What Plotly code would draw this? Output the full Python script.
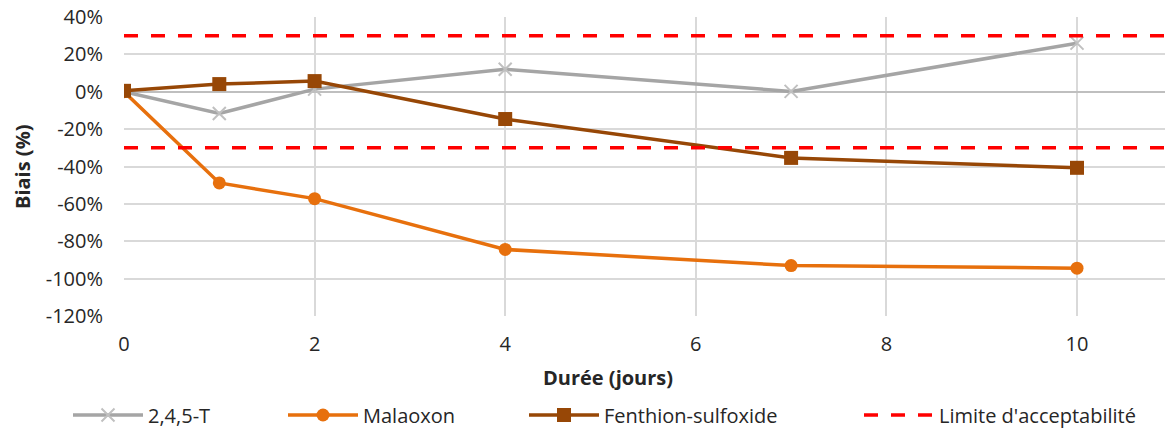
import plotly.graph_objects as go

# ---- data ----
days = [0, 1, 2, 4, 7, 10]
t245 = [0.0, -0.116, 0.014, 0.12, 0.002, 0.26]
malaoxon = [0.0, -0.488, -0.572, -0.844, -0.93, -0.944]
fenthion = [0.005, 0.041, 0.057, -0.146, -0.354, -0.407]
limit_x = [0, 11]
limit_hi = [0.30, 0.30]
limit_lo = [-0.30, -0.30]
y_ticks = [0.4, 0.2, 0.0, -0.2, -0.4, -0.6, -0.8, -1.0, -1.2]
x_ticks = [0, 2, 4, 6, 8, 10]

W, H = 1165, 430
L, R, T, B = 124, 0, 17, 114
FONT = "Open Sans"
TXT = "#262626"

fig = go.Figure()
fig.add_trace(go.Scatter(
    x=days, y=t245, name="2,4,5-T", mode="lines+markers",
    line=dict(color="#a5a5a5", width=3.5),
    marker=dict(symbol="x-thin", size=13, line=dict(color="#c0c0c0", width=2), color="#c0c0c0"),
    legend="legend"))
fig.add_trace(go.Scatter(
    x=days, y=malaoxon, name="Malaoxon", mode="lines+markers",
    line=dict(color="#e7700d", width=3.5),
    marker=dict(symbol="circle", size=13, color="#e7700d"),
    legend="legend2"))
fig.add_trace(go.Scatter(
    x=days, y=fenthion, name="Fenthion-sulfoxide", mode="lines+markers",
    line=dict(color="#974706", width=3.5),
    marker=dict(symbol="square", size=14, color="#974706"),
    legend="legend3"))
fig.add_trace(go.Scatter(
    x=limit_x, y=limit_hi, name="Limite d'acceptabilité", mode="lines",
    line=dict(color="#ff0000", width=3.5, dash="14px,13px"),
    legend="legend4"))
fig.add_trace(go.Scatter(
    x=limit_x, y=limit_lo, name="Limite d'acceptabilité", mode="lines",
    line=dict(color="#ff0000", width=3.5, dash="14px,13px"),
    legend="legend4", showlegend=False))

plot_w = W - L - R
plot_h = H - T - B

def px_x(px):
    return (px - L) / plot_w

def px_y(py):
    return (H - B - py) / plot_h

leg_common = dict(orientation="h", xref="container", yref="container",
                  xanchor="left", yanchor="middle", y=(H - 415) / H,
                  font=dict(family=FONT, size=20, color=TXT),
                  bgcolor="rgba(0,0,0,0)", itemwidth=70, borderwidth=0)

fig.update_layout(
    width=W, height=H,
    margin=dict(l=L, r=R, t=T, b=B, pad=0, autoexpand=False),
    paper_bgcolor="white", plot_bgcolor="white",
    font=dict(family=FONT, size=20, color=TXT),
    showlegend=True,
    legend=dict(x=68 / W, **leg_common),
    legend2=dict(x=283 / W, **leg_common),
    legend3=dict(x=524 / W, **leg_common),
    legend4=dict(x=859 / W, **leg_common),
    xaxis=dict(range=[0, plot_w / 95.3], tickvals=x_ticks,
               ticktext=[str(v) for v in x_ticks],
               showgrid=True, gridcolor="#d9d9d9", gridwidth=1.5,
               zeroline=False, showline=False, automargin=False,
               ticks="", ticklabelstandoff=14,
               tickfont=dict(family=FONT, size=20, color=TXT)),
    yaxis=dict(range=[-1.2, 0.4], tickvals=y_ticks,
               ticktext=[f"{round(v*100)}%" for v in y_ticks],
               showgrid=True, gridcolor="#d9d9d9", gridwidth=1.5,
               zeroline=True, zerolinecolor="#bfbfbf", zerolinewidth=2,
               showline=False, ticks="", ticklabelstandoff=20, automargin=False,
               tickfont=dict(family=FONT, size=20, color=TXT)),
    annotations=[
        dict(text="<b>Durée (jours)</b>", xref="paper", yref="paper",
             x=px_x(608), y=px_y(377), xanchor="center", yanchor="middle",
             showarrow=False, font=dict(family=FONT, size=20, color=TXT)),
        dict(text="<b>Biais (%)</b>", xref="paper", yref="paper",
             x=px_x(22), y=px_y(167), xanchor="center", yanchor="middle",
             textangle=-90, showarrow=False,
             font=dict(family=FONT, size=20, color=TXT)),
    ],
)

fig.write_html("out.html",
               config={"displayModeBar": False},
               post_script="document.body.style.margin='0';document.body.style.overflow='hidden';")
